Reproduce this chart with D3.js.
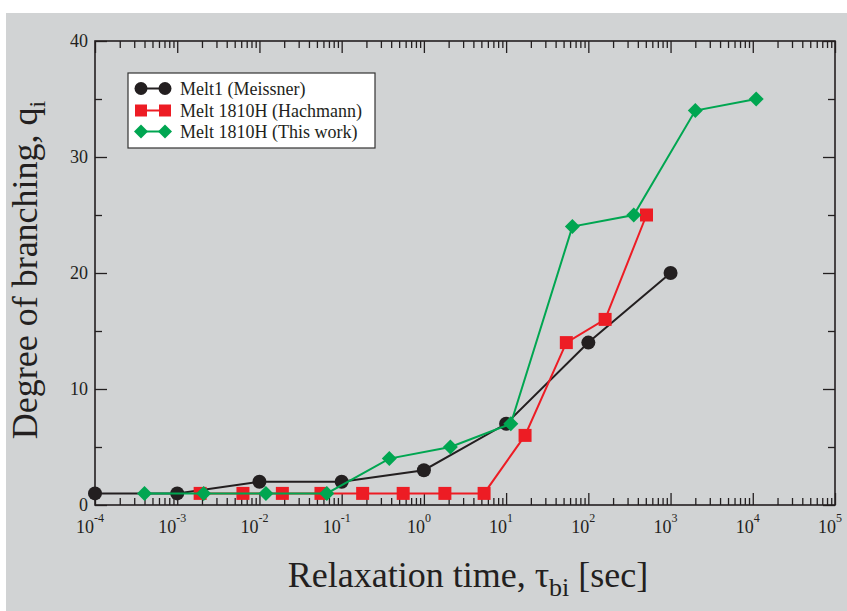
<!DOCTYPE html>
<html>
<head>
<meta charset="utf-8">
<script src="https://cdn.jsdelivr.net/npm/d3@7"></script>
<style>
  body { margin: 0; background: #fff; }
  text { font-family: "Liberation Serif", "Times New Roman", serif; fill: #231f20; }
</style>
</head>
<body>
<div id="chart"></div>
<script>
// Melt1 (Meissner)
let meissnerX = [1e-4, 1e-3, 1e-2, 1e-1, 1, 10, 100, 1000];
let meissnerY = [1, 1, 2, 2, 3, 7, 14, 20];

// Melt 1810H (Hachmann)
let hachmannX = [0.0019, 0.0063, 0.019, 0.056, 0.18, 0.56, 1.8, 5.4, 17, 54, 160, 510];
let hachmannY = [1, 1, 1, 1, 1, 1, 1, 1, 6, 14, 16, 25];

// Melt 1810H (This work)
let thisWorkX = [0.0004, 0.0021, 0.012, 0.066, 0.38, 2.1, 11.4, 64, 357, 2000, 11000];
let thisWorkY = [1, 1, 1, 1, 4, 5, 7, 24, 25, 34, 35];

let seriesNames = ["Melt1 (Meissner)", "Melt 1810H (Hachmann)", "Melt 1810H (This work)"];
let xMajorExp = [-4, -3, -2, -1, 0, 1, 2, 3, 4, 5];
let yMajorTicks = [0, 10, 20, 30, 40];
let yMinorTicks = [5, 15, 25, 35];

let width = 847, height = 611;
let plotLeft = 95, plotRight = 835, plotTop = 41, plotBottom = 505;

let svg = d3.select("#chart").append("svg").attr("width", width).attr("height", height);

svg.append("rect").attr("width", width).attr("height", height).attr("fill", "#fff");
svg.append("rect").attr("x", 6).attr("y", 13).attr("width", width - 6).attr("height", height - 13)
    .attr("fill", "#d1d3d4");

let x = d3.scaleLog().domain([1e-4, 1e5]).range([plotLeft, plotRight]);
let y = d3.scaleLinear().domain([0, 40]).range([plotBottom, plotTop]);

let xMajor = xMajorExp.map(e => Math.pow(10, e));
let xMinor = [];
xMajorExp.slice(0, -1).forEach(e => {
    for (let m = 2; m <= 9; m++) xMinor.push(m * Math.pow(10, e));
});

function styleAxis(g) {
    g.select(".domain").remove();
    g.selectAll("line").attr("stroke", "#231f20").attr("stroke-width", 1.3);
}

// major + minor ticks pointing inward on all four sides
svg.append("g").attr("transform", `translate(0,${plotBottom})`)
    .call(d3.axisBottom(x).tickValues(xMajor).tickSize(-12).tickFormat("")).call(styleAxis);
svg.append("g").attr("transform", `translate(0,${plotBottom})`)
    .call(d3.axisBottom(x).tickValues(xMinor).tickSize(-7).tickFormat("")).call(styleAxis);
svg.append("g").attr("transform", `translate(0,${plotTop})`)
    .call(d3.axisTop(x).tickValues(xMajor).tickSize(-12).tickFormat("")).call(styleAxis);
svg.append("g").attr("transform", `translate(0,${plotTop})`)
    .call(d3.axisTop(x).tickValues(xMinor).tickSize(-7).tickFormat("")).call(styleAxis);
svg.append("g").attr("transform", `translate(${plotLeft},0)`)
    .call(d3.axisLeft(y).tickValues(yMajorTicks).tickSize(-12).tickFormat("")).call(styleAxis);
svg.append("g").attr("transform", `translate(${plotLeft},0)`)
    .call(d3.axisLeft(y).tickValues(yMinorTicks).tickSize(-7).tickFormat("")).call(styleAxis);
svg.append("g").attr("transform", `translate(${plotRight},0)`)
    .call(d3.axisRight(y).tickValues(yMajorTicks).tickSize(-12).tickFormat("")).call(styleAxis);
svg.append("g").attr("transform", `translate(${plotRight},0)`)
    .call(d3.axisRight(y).tickValues(yMinorTicks).tickSize(-7).tickFormat("")).call(styleAxis);

svg.append("rect")
    .attr("x", plotLeft).attr("y", plotTop)
    .attr("width", plotRight - plotLeft).attr("height", plotBottom - plotTop)
    .attr("fill", "none").attr("stroke", "#231f20").attr("stroke-width", 1.6);

// tick labels
svg.selectAll(".ylab").data(yMajorTicks).enter().append("text")
    .attr("x", plotLeft - 7).attr("y", d => y(d)).attr("dy", "0.34em")
    .attr("text-anchor", "end").attr("font-size", 18).text(d => d);

let xl = svg.selectAll(".xlab").data(xMajorExp).enter().append("text")
    .attr("x", d => x(Math.pow(10, d)) - 5).attr("y", 533)
    .attr("text-anchor", "middle").attr("font-size", 18);
xl.append("tspan").text("10");
xl.append("tspan").attr("dy", -11).attr("font-size", 12).text(d => d);

// axis titles
let xt = svg.append("text").attr("x", 468).attr("y", 587).attr("text-anchor", "middle").attr("font-size", 36);
xt.append("tspan").text("Relaxation time, \u03c4");
xt.append("tspan").attr("dy", 9).attr("font-size", 26).text("bi");
xt.append("tspan").attr("dy", -9).text(" [sec]");

let yt = svg.append("text").attr("transform", "translate(37,270) rotate(-90)")
    .attr("text-anchor", "middle").attr("font-size", 36);
yt.append("tspan").text("Degree of branching, q");
yt.append("tspan").attr("dy", 8).attr("font-size", 24).text("i");

// series
let colors = ["#231f20", "#ed1c24", "#00a651"];
let series = [
    { name: seriesNames[0], xs: meissnerX, ys: meissnerY, shape: "circle", color: colors[0] },
    { name: seriesNames[1], xs: hachmannX, ys: hachmannY, shape: "square", color: colors[1] },
    { name: seriesNames[2], xs: thisWorkX, ys: thisWorkY, shape: "diamond", color: colors[2] }
];

function markerPath(shape, s) {
    if (shape === "circle") return d3.symbol(d3.symbolCircle, Math.PI * s * s)();
    if (shape === "square") return `M${-s},${-s}H${s}V${s}H${-s}Z`;
    return `M0,${-s - 1}L${s + 1},0L0,${s + 1}L${-s - 1},0Z`;
}
let markerSize = { circle: 7, square: 6.5, diamond: 6.5 };

let line = d3.line().x(d => x(d[0])).y(d => y(d[1]));

series.forEach(s => {
    let pts = s.xs.map((v, i) => [v, s.ys[i]]);
    svg.append("path").datum(pts).attr("d", line)
        .attr("fill", "none").attr("stroke", s.color).attr("stroke-width", 2);
    svg.selectAll(null).data(pts).enter().append("path")
        .attr("transform", d => `translate(${x(d[0])},${y(d[1])})`)
        .attr("d", markerPath(s.shape, markerSize[s.shape]))
        .attr("fill", s.color);
});

// legend
let legend = svg.append("g");
legend.append("rect").attr("x", 128).attr("y", 73).attr("width", 247).attr("height", 75)
    .attr("fill", "#fff").attr("stroke", "#333").attr("stroke-width", 1.2);
let rowY = [88.5, 110.5, 131.5];
series.forEach((s, i) => {
    legend.append("line").attr("x1", 141).attr("x2", 165).attr("y1", rowY[i]).attr("y2", rowY[i])
        .attr("stroke", s.color).attr("stroke-width", 2);
    [141, 165].forEach(cx => {
        legend.append("path").attr("transform", `translate(${cx},${rowY[i]})`)
            .attr("d", markerPath(s.shape, s.shape === "circle" ? 6.5 : 6)).attr("fill", s.color);
    });
    legend.append("text").attr("x", 180).attr("y", rowY[i]).attr("dy", "0.35em")
        .attr("font-size", 18).text(s.name);
});
</script>
</body>
</html>
